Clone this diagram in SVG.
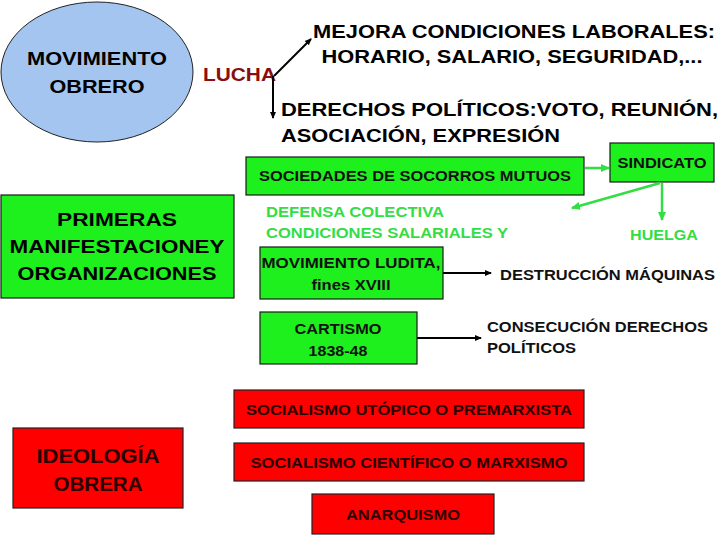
<svg xmlns="http://www.w3.org/2000/svg" width="728" height="546" viewBox="0 0 728 546">
<style>
text{font-family:"Liberation Sans",Arial,sans-serif;font-weight:bold;}
.big{font-size:18px;fill:#000;}
.gbox{fill:#1ef01e;stroke:#1a1a1a;stroke-width:1.2;}
.rbox{fill:#ff0000;stroke:#222;stroke-width:1.2;}
.gt{font-size:14px;fill:#111;}
.rt{font-size:15px;fill:#2a0000;}
.green{font-size:14px;fill:#33dd44;}
.blk{stroke:#000;stroke-width:2;fill:none;}
.grn{stroke:#33dd44;stroke-width:2.5;fill:none;}
</style>
<defs>
<marker id="ab" markerWidth="8" markerHeight="8" refX="6" refY="4" orient="auto" markerUnits="userSpaceOnUse"><path d="M0,1 L7,4 L0,7 Z" fill="#000"/></marker>
<marker id="ag" markerWidth="10" markerHeight="10" refX="8" refY="5" orient="auto" markerUnits="userSpaceOnUse"><path d="M0,1 L9,5 L0,9 Z" fill="#33dd44"/></marker>
</defs>
<rect width="728" height="546" fill="#fff"/>

<g id="movimiento-obrero">
<ellipse cx="97" cy="72" rx="96" ry="70" fill="#a3c5ef" stroke="#222" stroke-width="1"/>
<text class="big" x="97" y="65" text-anchor="middle" font-size="18" textLength="140" lengthAdjust="spacingAndGlyphs">MOVIMIENTO</text>
<text class="big" x="97" y="93" text-anchor="middle" font-size="18" textLength="95" lengthAdjust="spacingAndGlyphs">OBRERO</text>
</g>

<g id="lucha">
<text x="203" y="81" font-size="18" fill="#8b0d0d" textLength="73" lengthAdjust="spacingAndGlyphs">LUCHA</text>
</g>

<g id="mejora">
<text class="big" x="514" y="38" text-anchor="middle" textLength="402" lengthAdjust="spacingAndGlyphs">MEJORA CONDICIONES LABORALES:</text>
<text class="big" x="512" y="63" text-anchor="middle" textLength="381" lengthAdjust="spacingAndGlyphs">HORARIO, SALARIO, SEGURIDAD,...</text>
</g>

<g id="derechos">
<text class="big" x="281" y="116" textLength="437" lengthAdjust="spacingAndGlyphs">DERECHOS POLÍTICOS:VOTO, REUNIÓN,</text>
<text class="big" x="281" y="142" textLength="279" lengthAdjust="spacingAndGlyphs">ASOCIACIÓN, EXPRESIÓN</text>
</g>

<g id="primeras">
<rect class="gbox" x="1" y="195" width="233" height="103"/>
<text class="big" x="117" y="226" text-anchor="middle" textLength="120" lengthAdjust="spacingAndGlyphs">PRIMERAS</text>
<text class="big" x="117" y="253" text-anchor="middle" textLength="215" lengthAdjust="spacingAndGlyphs">MANIFESTACIONEY</text>
<text class="big" x="117" y="280" text-anchor="middle" textLength="199" lengthAdjust="spacingAndGlyphs">ORGANIZACIONES</text>
</g>

<g id="sociedades">
<rect class="gbox" x="246" y="157" width="338" height="38"/>
<text class="gt" x="415" y="181" text-anchor="middle" textLength="312" lengthAdjust="spacingAndGlyphs">SOCIEDADES DE SOCORROS MUTUOS</text>
</g>

<g id="sindicato">
<rect class="gbox" x="610" y="143" width="104" height="39"/>
<text class="gt" x="662" y="168" text-anchor="middle" textLength="89" lengthAdjust="spacingAndGlyphs">SINDICATO</text>
</g>

<g id="defensa">
<text class="green" x="266" y="217" textLength="178" lengthAdjust="spacingAndGlyphs">DEFENSA COLECTIVA</text>
<text class="green" x="266" y="238" textLength="242" lengthAdjust="spacingAndGlyphs">CONDICIONES SALARIALES Y</text>
</g>

<g id="huelga">
<text class="green" x="630" y="240" textLength="68" lengthAdjust="spacingAndGlyphs">HUELGA</text>
</g>

<g id="ludita">
<rect class="gbox" x="260" y="247" width="183" height="52"/>
<text class="gt" x="351" y="268" text-anchor="middle" textLength="179" lengthAdjust="spacingAndGlyphs">MOVIMIENTO LUDITA,</text>
<text class="gt" x="351" y="290" text-anchor="middle" textLength="79" lengthAdjust="spacingAndGlyphs">fines XVIII</text>
</g>

<g id="destruccion">
<text class="gt" x="500" y="280" fill="#000" textLength="215" lengthAdjust="spacingAndGlyphs">DESTRUCCIÓN MÁQUINAS</text>
</g>

<g id="cartismo">
<rect class="gbox" x="260" y="312" width="157" height="52"/>
<text class="gt" x="338" y="334" text-anchor="middle" textLength="87" lengthAdjust="spacingAndGlyphs">CARTISMO</text>
<text class="gt" x="338" y="356" text-anchor="middle" textLength="59" lengthAdjust="spacingAndGlyphs">1838-48</text>
</g>

<g id="consecucion">
<text class="gt" x="487" y="332" textLength="221" lengthAdjust="spacingAndGlyphs">CONSECUCIÓN DERECHOS</text>
<text class="gt" x="487" y="353" textLength="89" lengthAdjust="spacingAndGlyphs">POLÍTICOS</text>
</g>

<g id="ideologia">
<rect class="rbox" x="13" y="428" width="170" height="80"/>
<text x="98" y="463" text-anchor="middle" font-size="21" fill="#2a0000" textLength="123" lengthAdjust="spacingAndGlyphs">IDEOLOGÍA</text>
<text x="98" y="491" text-anchor="middle" font-size="21" fill="#2a0000" textLength="89" lengthAdjust="spacingAndGlyphs">OBRERA</text>
</g>

<g id="utopico">
<rect class="rbox" x="234" y="390" width="350" height="38"/>
<text class="rt" x="409" y="415" text-anchor="middle" textLength="326" lengthAdjust="spacingAndGlyphs">SOCIALISMO UTÓPICO O PREMARXISTA</text>
</g>

<g id="cientifico">
<rect class="rbox" x="234" y="443" width="350" height="38"/>
<text class="rt" x="409" y="468" text-anchor="middle" textLength="317" lengthAdjust="spacingAndGlyphs">SOCIALISMO CIENTÍFICO O MARXISMO</text>
</g>

<g id="anarquismo">
<rect class="rbox" x="312" y="494" width="182" height="40"/>
<text class="rt" x="403" y="520" text-anchor="middle" textLength="114" lengthAdjust="spacingAndGlyphs">ANARQUISMO</text>
</g>

<g id="connectors">
<line class="blk" x1="274" y1="76" x2="311" y2="39" marker-end="url(#ab)"/>
<line class="blk" x1="273" y1="76" x2="273" y2="118" marker-end="url(#ab)"/>
<line class="grn" x1="585" y1="168" x2="609" y2="168" marker-end="url(#ag)"/>
<line class="grn" x1="660" y1="183" x2="572" y2="208" marker-end="url(#ag)"/>
<line class="grn" x1="662" y1="183" x2="662" y2="220" marker-end="url(#ag)"/>
<line class="blk" x1="443" y1="273" x2="491" y2="273" marker-end="url(#ab)"/>
<line class="blk" x1="417" y1="338" x2="481" y2="338" marker-end="url(#ab)"/>
</g>
</svg>
